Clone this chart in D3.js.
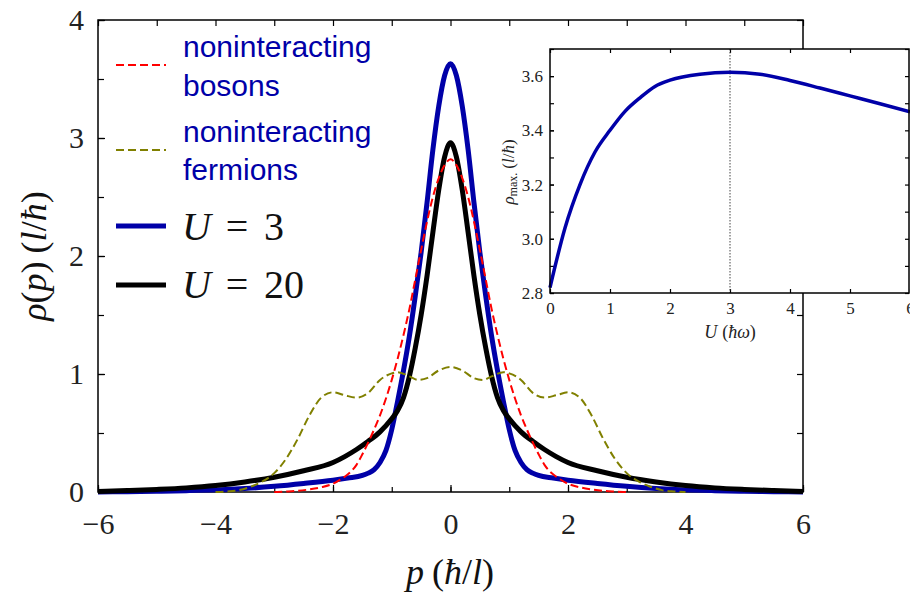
<!DOCTYPE html>
<html>
<head>
<meta charset="utf-8">
<script src="https://cdn.jsdelivr.net/npm/d3@7"></script>
<style>
  html, body { margin: 0; padding: 0; background: #fff; }
  svg { display: block; }
</style>
</head>
<body>
<svg id="chart" width="910" height="594"></svg>
<script>
// Momentum distributions rho(p) for a trapped 1D gas, plus the peak height vs. interaction U.

// U = 3 (interacting)
const pU3   = [-6,-5.5,-5,-4.5,-4,-3.5,-3,-2.5,-2,-1.75,-1.5,-1.4,-1.3,-1.2,-1.1,-1,-0.9,-0.8,-0.7,-0.6,-0.5,-0.4,-0.3,-0.2,-0.1,0,
               0.1,0.2,0.3,0.4,0.5,0.6,0.7,0.8,0.9,1,1.1,1.2,1.3,1.4,1.5,1.75,2,2.5,3,3.5,4,4.5,5,5.5,6];
const rhoU3 = [0.0,0.003,0.006,0.011,0.018,0.03,0.048,0.072,0.1,0.118,0.14,0.16,0.19,0.25,0.35,0.53,0.77,1.03,1.32,1.66,2.03,2.45,2.9,3.27,3.53,3.63,
               3.53,3.27,2.9,2.45,2.03,1.66,1.32,1.03,0.77,0.53,0.35,0.25,0.19,0.16,0.14,0.118,0.1,0.072,0.048,0.03,0.018,0.011,0.006,0.003,0.0];

// U = 20 (interacting)
const pU20   = [-6,-5.5,-5,-4.5,-4,-3.5,-3,-2.5,-2,-1.8,-1.6,-1.4,-1.2,-1,-0.9,-0.8,-0.7,-0.6,-0.5,-0.4,-0.3,-0.2,-0.1,0,
                0.1,0.2,0.3,0.4,0.5,0.6,0.7,0.8,0.9,1,1.2,1.4,1.6,1.8,2,2.5,3,3.5,4,4.5,5,5.5,6];
const rhoU20 = [0.004,0.012,0.022,0.035,0.055,0.085,0.125,0.18,0.25,0.3,0.36,0.43,0.51,0.62,0.69,0.8,0.98,1.22,1.5,1.83,2.2,2.56,2.84,2.96,
                2.84,2.56,2.2,1.83,1.5,1.22,0.98,0.8,0.69,0.62,0.51,0.43,0.36,0.3,0.25,0.18,0.125,0.085,0.055,0.035,0.022,0.012,0.004];

// noninteracting bosons
const pBos   = [-3,-2.8,-2.6,-2.4,-2.2,-2,-1.8,-1.7,-1.6,-1.5,-1.4,-1.3,-1.2,-1.1,-1,-0.9,-0.8,-0.7,-0.6,-0.5,-0.4,-0.3,-0.2,-0.1,0,
                0.1,0.2,0.3,0.4,0.5,0.6,0.7,0.8,0.9,1,1.1,1.2,1.3,1.4,1.5,1.6,1.7,1.8,2,2.2,2.4,2.6,2.8,3];
const rhoBos = [0,0.004,0.01,0.022,0.04,0.07,0.13,0.17,0.23,0.32,0.42,0.53,0.65,0.79,0.95,1.13,1.33,1.55,1.8,2.05,2.29,2.5,2.66,2.77,2.82,
                2.77,2.66,2.5,2.29,2.05,1.8,1.55,1.33,1.13,0.95,0.79,0.65,0.53,0.42,0.32,0.23,0.17,0.13,0.07,0.04,0.022,0.01,0.004,0];

// noninteracting fermions
const pFer   = [-4,-3.8,-3.6,-3.4,-3.2,-3,-2.8,-2.6,-2.4,-2.2,-2,-1.8,-1.6,-1.4,-1.2,-1,-0.9,-0.7,-0.55,-0.4,-0.2,0,
                0.2,0.4,0.55,0.7,0.9,1,1.2,1.4,1.6,1.8,2,2.2,2.4,2.6,2.8,3,3.2,3.4,3.6,3.8,4];
const rhoFer = [0,0.005,0.016,0.045,0.09,0.16,0.28,0.45,0.65,0.8,0.845,0.82,0.8,0.84,0.95,1.005,1.015,0.98,0.95,0.965,1.03,1.06,
                1.03,0.965,0.95,0.98,1.015,1.005,0.95,0.84,0.8,0.82,0.845,0.8,0.65,0.45,0.28,0.16,0.09,0.045,0.016,0.005,0];

// inset: peak height rho_max versus U
const uInset   = [0,0.25,0.5,0.75,1,1.25,1.5,1.75,2,2.5,3,3.5,4,4.5,5,5.5,6];
const rhoInset = [2.82,3.04,3.2,3.32,3.4,3.47,3.52,3.562,3.585,3.607,3.614,3.607,3.584,3.556,3.527,3.498,3.468];

const xTicks = [-6,-4,-2,0,2,4,6];
const yTicks = [0,1,2,3,4];
const insetXTicks = [0,1,2,3,4,5,6];
const insetYTicks = [2.8,3.0,3.2,3.4,3.6];
const legendLabels = [["noninteracting","bosons"],["noninteracting","fermions"],"U = 3","U = 20"];

const NAVY = "#0000a8";
const SERIF = "'Liberation Serif', 'DejaVu Serif', serif";
const SANS = "'Liberation Sans', Arial, sans-serif";

const svg = d3.select("#chart");

// ---------- main axes ----------
const L = 98, R = 803, T = 20, B = 492;
const x = d3.scaleLinear([-6, 6], [L, R]);
const y = d3.scaleLinear([0, 4], [B, T]);

function styleAxis(g, fontSize) {
  g.select(".domain").remove();
  g.selectAll(".tick line").attr("stroke", "#000").attr("stroke-width", 1.2);
  g.selectAll(".tick text").attr("font-family", SERIF).attr("font-size", fontSize).attr("fill", "#222");
}

const minorX = d3.range(-6, 6.01, 1);
const minorY = d3.range(0, 4.01, 0.5);

svg.append("g").attr("transform", `translate(0,${B})`)
  .call(d3.axisBottom(x).tickValues(minorX).tickSize(-5).tickFormat(""))
  .call(g => styleAxis(g, 0));
svg.append("g").attr("transform", `translate(0,${B})`)
  .call(d3.axisBottom(x).tickValues(xTicks).tickSize(-7).tickPadding(21))
  .call(g => styleAxis(g, 30));
svg.append("g").attr("transform", `translate(0,${T})`)
  .call(d3.axisTop(x).tickValues(minorX).tickSize(-6).tickFormat(""))
  .call(g => styleAxis(g, 0));
svg.append("g").attr("transform", `translate(${L},0)`)
  .call(d3.axisLeft(y).tickValues(minorY).tickSize(-6).tickFormat(""))
  .call(g => styleAxis(g, 0));
svg.append("g").attr("transform", `translate(${L},0)`)
  .call(d3.axisLeft(y).tickValues(yTicks).tickSize(-7).tickPadding(14).tickFormat(d3.format("d")))
  .call(g => styleAxis(g, 30));
svg.append("g").attr("transform", `translate(${R},0)`)
  .call(d3.axisRight(y).tickValues(minorY).tickSize(-6).tickFormat(""))
  .call(g => styleAxis(g, 0));

svg.append("rect").attr("x", L).attr("y", T).attr("width", R - L).attr("height", B - T)
  .attr("fill", "none").attr("stroke", "#000").attr("stroke-width", 1.5);

// curves
const line = d3.line().x(d => x(d[0])).y(d => y(d[1])).curve(d3.curveMonotoneX);
const zip = (a, b) => a.map((v, i) => [v, b[i]]);

svg.append("path").datum(zip(pU3, rhoU3)).attr("d", line)
  .attr("fill", "none").attr("stroke", NAVY).attr("stroke-width", 5).attr("stroke-linejoin", "round");
svg.append("path").datum(zip(pU20, rhoU20)).attr("d", line)
  .attr("fill", "none").attr("stroke", "#000").attr("stroke-width", 5).attr("stroke-linejoin", "round");
svg.append("path").datum(zip(pBos, rhoBos)).attr("d", line)
  .attr("fill", "none").attr("stroke", "#ff0000").attr("stroke-width", 2).attr("stroke-dasharray", "8,4");
svg.append("path").datum(zip(pFer, rhoFer)).attr("d", line)
  .attr("fill", "none").attr("stroke", "#808000").attr("stroke-width", 2).attr("stroke-dasharray", "8,4");

// axis titles
svg.append("text").attr("x", 450).attr("y", 584).attr("text-anchor", "middle")
  .attr("font-family", SERIF).attr("font-size", 36).attr("fill", "#111")
  .call(t => {
    t.append("tspan").attr("font-style", "italic").text("p");
    t.append("tspan").attr("dx", 8).text("(");
    t.append("tspan").attr("font-style", "italic").text("ħ");
    t.append("tspan").text("/");
    t.append("tspan").attr("font-style", "italic").text("l");
    t.append("tspan").text(")");
  });

svg.append("text").attr("transform", "translate(46,256) rotate(-90)").attr("text-anchor", "middle")
  .attr("font-family", SERIF).attr("font-size", 36).attr("fill", "#111")
  .call(t => {
    t.append("tspan").attr("font-style", "italic").text("ρ");
    t.append("tspan").text("(");
    t.append("tspan").attr("font-style", "italic").text("p");
    t.append("tspan").text(")");
    t.append("tspan").attr("dx", 8).text("(");
    t.append("tspan").attr("font-style", "italic").text("l");
    t.append("tspan").text("/");
    t.append("tspan").attr("font-style", "italic").text("ħ");
    t.append("tspan").text(")");
  });

// ---------- legend ----------
const legend = svg.append("g");
const legendRows = [
  { y: 65,  color: "#ff0000", width: 2, dash: "8,4", lines: legendLabels[0], base: [57, 96] },
  { y: 150, color: "#808000", width: 2, dash: "8,4", lines: legendLabels[1], base: [142, 180] },
  { y: 226, color: NAVY, width: 5, dash: null, math: legendLabels[2], base: [240] },
  { y: 285, color: "#000", width: 5, dash: null, math: legendLabels[3], base: [298] }
];
legendRows.forEach(r => {
  legend.append("line").attr("x1", 116).attr("x2", 166).attr("y1", r.y).attr("y2", r.y)
    .attr("stroke", r.color).attr("stroke-width", r.width).attr("stroke-dasharray", r.dash);
  if (r.lines) {
    r.lines.forEach((s, i) => legend.append("text").attr("x", 183).attr("y", r.base[i])
      .attr("font-family", SANS).attr("font-size", 30).attr("fill", NAVY).text(s));
  } else {
    const parts = r.math.split(" ");
    const g = legend.append("g").attr("font-family", SERIF).attr("font-size", 40).attr("fill", "#111");
    g.append("text").attr("x", 182).attr("y", r.base[0]).attr("font-style", "italic").text(parts[0]);
    g.append("text").attr("x", 237).attr("y", r.base[0]).attr("text-anchor", "middle").text(parts[1]);
    g.append("text").attr("x", 264).attr("y", r.base[0]).text(parts[2]);
  }
});

// ---------- inset ----------
const iL = 550, iR = 910, iT = 49, iB = 293;
const xi = d3.scaleLinear([0, 6], [iL, iR]);
const yi = d3.scaleLinear([2.8, 3.7], [iB, iT]);

svg.append("rect").attr("x", iL).attr("y", iT).attr("width", iR - iL).attr("height", iB - iT).attr("fill", "#fff");

const insetMinorY = d3.range(2.8, 3.701, 0.1);
svg.append("g").attr("transform", `translate(0,${iB})`)
  .call(d3.axisBottom(xi).tickValues(insetXTicks).tickSize(-4).tickPadding(9).tickFormat(d3.format("d")))
  .call(g => styleAxis(g, 17));
svg.append("g").attr("transform", `translate(0,${iT})`)
  .call(d3.axisTop(xi).tickValues(insetXTicks).tickSize(-4).tickFormat(""))
  .call(g => styleAxis(g, 0));
svg.append("g").attr("transform", `translate(${iL},0)`)
  .call(d3.axisLeft(yi).tickValues(insetMinorY).tickSize(-4).tickFormat(""))
  .call(g => styleAxis(g, 0));
svg.append("g").attr("transform", `translate(${iL},0)`)
  .call(d3.axisLeft(yi).tickValues(insetYTicks).tickSize(-4).tickPadding(7).tickFormat(d3.format(".1f")))
  .call(g => styleAxis(g, 17));
svg.append("g").attr("transform", `translate(${iR - 1},0)`)
  .call(d3.axisRight(yi).tickValues(insetMinorY).tickSize(-4).tickFormat(""))
  .call(g => styleAxis(g, 0));

// marker at the maximum (U = 3)
svg.append("line").attr("x1", xi(3)).attr("x2", xi(3)).attr("y1", iT).attr("y2", iB)
  .attr("stroke", "#444").attr("stroke-width", 1).attr("stroke-dasharray", "1.5,1.5");

const lineInset = d3.line().x(d => xi(d[0])).y(d => yi(d[1])).curve(d3.curveMonotoneX);
svg.append("path").datum(zip(uInset, rhoInset)).attr("d", lineInset)
  .attr("fill", "none").attr("stroke", NAVY).attr("stroke-width", 3.5);

svg.append("rect").attr("x", iL).attr("y", iT).attr("width", iR - iL - 1).attr("height", iB - iT)
  .attr("fill", "none").attr("stroke", "#000").attr("stroke-width", 1.5);

// inset titles
svg.append("text").attr("x", 730).attr("y", 338).attr("text-anchor", "middle")
  .attr("font-family", SERIF).attr("font-size", 18).attr("fill", "#222")
  .call(t => {
    t.append("tspan").attr("font-style", "italic").text("U");
    t.append("tspan").attr("dx", 5).text("(");
    t.append("tspan").attr("font-style", "italic").text("ħω");
    t.append("tspan").text(")");
  });

svg.append("text").attr("transform", "translate(514,172) rotate(-90)").attr("text-anchor", "middle")
  .attr("font-family", SERIF).attr("font-size", 17).attr("fill", "#222")
  .call(t => {
    t.append("tspan").attr("font-style", "italic").text("ρ");
    t.append("tspan").attr("font-size", 12).attr("dy", 3).text("max.");
    t.append("tspan").attr("dy", -3).attr("dx", 4).text("(");
    t.append("tspan").attr("font-style", "italic").text("l");
    t.append("tspan").text("/");
    t.append("tspan").attr("font-style", "italic").text("ħ");
    t.append("tspan").text(")");
  });
</script>
</body>
</html>
